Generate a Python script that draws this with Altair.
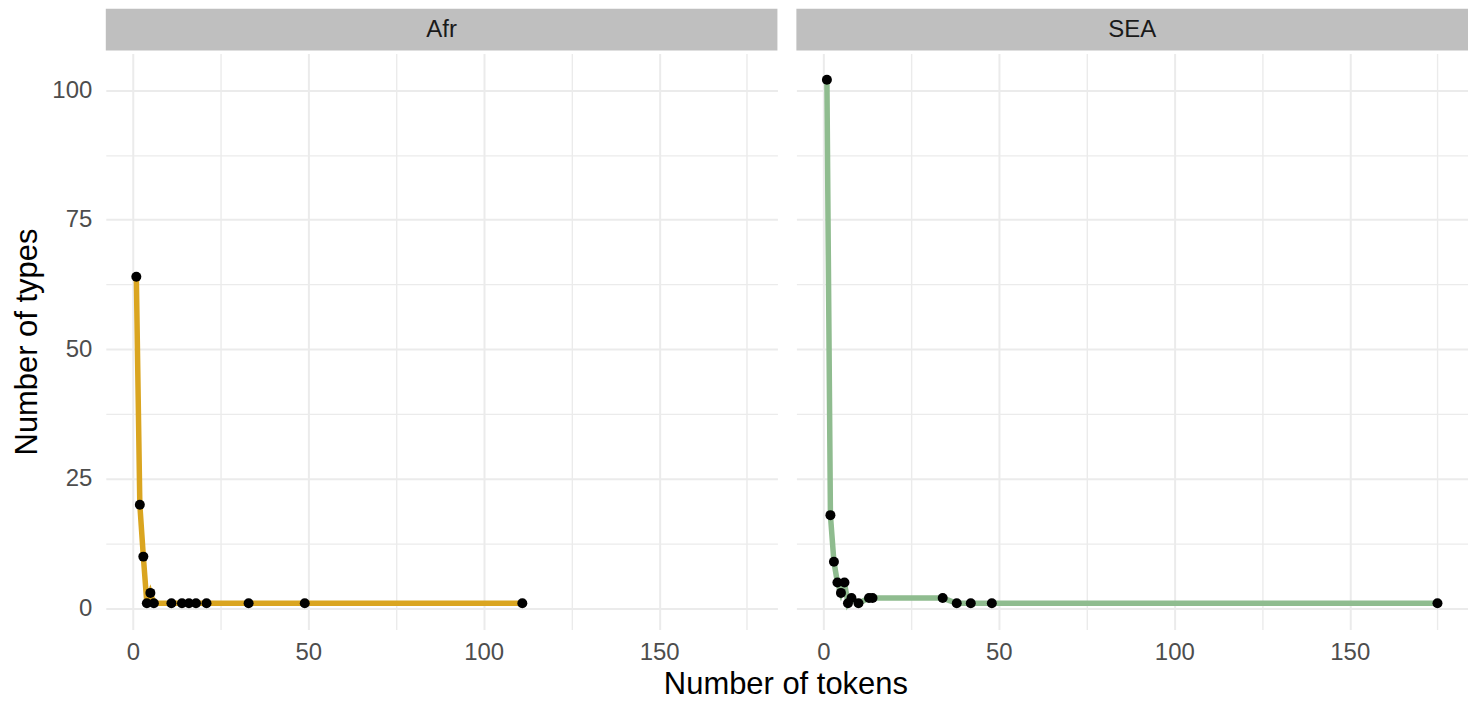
import altair as alt
import pandas as pd

# ---- data ----
regions = ["Afr", "SEA"]
afr_tokens = [1, 2, 3, 4, 5, 6, 11, 14, 16, 18, 21, 33, 49, 111]
afr_types = [64, 20, 10, 1, 3, 1, 1, 1, 1, 1, 1, 1, 1, 1]
sea_tokens = [1, 2, 3, 4, 5, 6, 7, 8, 10, 13, 14, 34, 38, 42, 48, 175]
sea_types = [102, 18, 9, 5, 3, 5, 1, 2, 1, 2, 2, 2, 1, 1, 1, 1]
line_colors = ["#DAA520", "#8FBC8F"]
x_ticks = [0, 25, 50, 75, 100, 125, 150, 175]
y_ticks = [0, 12.5, 25, 37.5, 50, 62.5, 75, 87.5, 100]

FONT = "Liberation Sans"
W, H = 673, 577
GRID = "#EBEBEB"

x_scale = alt.Scale(domain=[-7.7, 183.7], nice=False, zero=False)
y_scale = alt.Scale(domain=[-4.05, 107.05], nice=False, zero=False)


def grid_width(step):
    return {"condition": {"test": f"datum.value % {step} === 0", "value": 2}, "value": 1.4}


def panel(name, tokens, types, color, first):
    df = pd.DataFrame({"tokens": tokens, "types": types, "region": name})
    lab = pd.DataFrame({"region": [name]})

    x_axis = alt.Axis(
        values=x_ticks,
        labelExpr="datum.value % 50 === 0 ? datum.label : ''",
        title=None, ticks=False, domain=False,
        labelFontSize=24, labelColor="#4D4D4D", labelFont=FONT,
        labelPadding=11, labelOverlap=False, labelFlush=False,
        gridColor=GRID, gridWidth=grid_width(50),
    )
    if first:
        y_axis = alt.Axis(
            values=y_ticks,
            labelExpr="datum.value % 25 === 0 ? datum.label : ''",
            title="Number of types", titleFontSize=31, titleFont=FONT,
            titleColor="black", titleFontWeight="normal", titlePadding=8,
            ticks=False, domain=False,
            labelFontSize=24, labelColor="#4D4D4D", labelFont=FONT,
            labelPadding=14, labelOverlap=False, labelFlush=False,
            gridColor=GRID, gridWidth=grid_width(25),
        )
    else:
        y_axis = alt.Axis(
            values=y_ticks, labels=False, title=None, ticks=False, domain=False,
            gridColor=GRID, gridWidth=grid_width(25),
        )

    strip = alt.Chart(lab).mark_rect(color="#BFBFBF").encode(
        x=alt.value(0), x2=alt.value(W), y=alt.value(-45), y2=alt.value(-3)
    )
    strip_text = alt.Chart(lab).mark_text(
        fontSize=24, font=FONT, color="#1A1A1A", baseline="middle", align="center"
    ).encode(x=alt.value(W / 2), y=alt.value(-24), text="region:N")

    line = alt.Chart(df).mark_line(color=color, strokeWidth=5.5).encode(
        x=alt.X("tokens:Q", scale=x_scale, axis=x_axis),
        y=alt.Y("types:Q", scale=y_scale, axis=y_axis),
    )
    pts = alt.Chart(df).mark_circle(color="black", size=100, opacity=1).encode(
        x="tokens:Q", y="types:Q"
    )
    return alt.layer(line, pts, strip, strip_text).properties(width=W, height=H)


p1 = panel(regions[0], afr_tokens, afr_types, line_colors[0], True)
p2 = panel(regions[1], sea_tokens, sea_types, line_colors[1], False)

chart = alt.hconcat(p1, p2, spacing=19).properties(
    title=alt.TitleParams(
        "Number of tokens", orient="bottom", anchor="middle", fontSize=31,
        font=FONT, fontWeight="normal", color="black", offset=6, dx=46,
    ),
    padding={"left": 3, "top": 0, "right": 0, "bottom": 0},
    background="white",
).configure_view(strokeWidth=0)

chart.save("out.html", embed_options={"renderer": "svg", "actions": False})
